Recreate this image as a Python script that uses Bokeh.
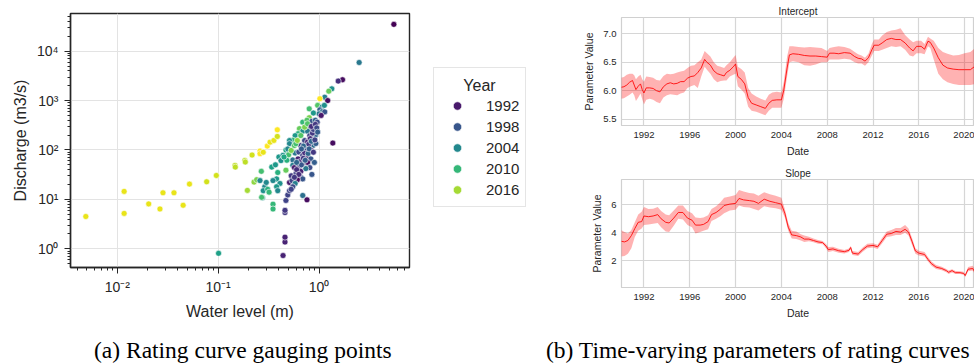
import numpy as np
from bokeh.plotting import figure
from bokeh.models import (ColumnDataSource, Range1d, FixedTicker,
                          CustomJSTickFormatter, NumeralTickFormatter, Legend,
                          LegendItem, Div, Title, Label, Spacer)
from bokeh.layouts import row, column
from bokeh.palettes import Viridis256
from bokeh.transform import linear_cmap
from bokeh.embed import file_html
from bokeh.resources import INLINE

# ---------------- (a) gauging points ----------------
level = [
    5.52, 2.50, 1.71, 1.55, 1.37, 0.76, 0.69, 0.44, 0.46, 0.46, 0.46, 0.46, 0.47, 0.49, 0.51, 0.101,
    0.00488, 0.0117, 0.0117, 0.0205, 0.0265, 0.0284, 0.0365, 0.045, 0.052, 0.077, 0.096, 0.147,
    0.148, 0.184, 0.186, 0.217, 0.26, 0.26, 0.28, 0.307, 0.327, 0.357, 0.386, 0.386, 0.195, 0.227,
    0.241, 0.26, 0.268, 0.35, 0.35, 0.275,
    1.34, 1.25, 1.14, 1.02, 1.22, 0.97, 1.07, 1.13, 1.02, 1.08, 1.14, 1.00, 1.05, 0.80, 0.88, 0.80,
    0.69, 0.76, 0.85, 0.92, 0.96, 0.76, 0.87, 0.81, 0.64, 0.69, 0.77, 0.62, 0.58, 0.81, 0.90, 0.93,
    0.55, 0.51, 0.72, 0.77, 0.51, 0.66, 0.87, 0.93, 0.47, 0.49, 0.74, 0.83, 0.58, 0.63, 0.40, 0.44,
    0.69, 0.77, 0.55, 0.62, 0.83, 0.42, 0.69, 0.77, 0.90, 0.55, 0.64, 0.34, 0.57, 0.81, 0.39, 0.47,
    0.66, 0.74, 0.59, 0.53, 0.85, 0.66, 0.69, 0.38, 0.35, 0.51, 0.54, 0.61, 0.58, 0.41, 0.38, 0.29,
    0.55, 0.53, 0.28, 0.31, 0.32, 0.39, 0.27, 0.48, 0.50, 0.53, 0.57, 0.59, 0.61, 0.66, 0.72, 0.77,
    0.60, 0.65, 0.70, 0.72, 0.75, 0.79, 0.82, 0.86, 0.88, 0.84, 0.92, 0.95, 0.67, 0.73, 0.78, 0.80,
    0.84, 0.70, 0.63, 0.57, 0.88, 0.91, 0.97, 0.60, 0.67, 0.45, 0.37, 0.30,
]
discharge = [
    34900, 5900, 2640, 2480, 138, 9.8, 12.0, 0.73, 1.37, 1.72, 5.4, 6.0, 9.5, 12.3, 15.0, 0.81,
    4.5, 14.5, 5.2, 8.1, 6.4, 13.6, 13.6, 7.6, 20.4, 22.7, 30.5, 48.6,
    45.0, 61, 57, 79, 95, 84, 90, 120, 144, 156, 188, 256, 15.2, 22.4,
    25.0, 24.0, 37, 8.0, 6.4, 10.8,
    1730, 1550, 1170, 1090, 1000, 800, 740, 800, 650, 600, 590, 540, 500, 680, 560, 450,
    366, 400, 380, 400, 366, 330, 290, 270, 270, 240, 240, 214, 195, 195, 186, 204,
    158, 155, 155, 145, 134, 123, 123, 135, 100, 105, 100, 100, 87, 91, 72, 78,
    78, 72, 63, 66, 66, 61, 54, 56, 56, 49, 47, 45, 44, 44, 35, 39,
    37, 42, 33, 30, 32, 28, 26, 26, 24, 22, 24, 25, 21, 21, 18, 18,
    18, 16, 15, 16, 14, 15, 11, 62, 80, 98, 123, 134, 156, 196, 290, 340,
    40, 58, 68, 88, 110, 130, 170, 220, 260, 300, 330, 280, 50, 62, 85, 105,
    150, 120, 32, 28, 90, 160, 230, 56, 105, 72, 50, 22,
]
year = [
    1990, 2002, 1991, 1994, 1991, 1991, 2001, 1993, 1993, 1993, 1995, 1995, 1996, 1996, 1996, 2007,
    2019, 2019, 2019, 2019, 2019, 2019, 2019, 2019, 2019, 2018, 2018, 2017,
    2017, 2017, 2017, 2018, 2020, 2020, 2019, 2020, 2019, 2019, 2018, 2020, 2016, 2015,
    2014, 2004, 2011, 2010, 2010, 2005,
    2005, 2013, 2003, 2020, 1991, 2012, 2004, 2005, 1999, 2001, 1998, 2002, 1992, 2011, 2006, 2014,
    2010, 2012, 1998, 2000, 1997, 2003, 1997, 1999, 2013, 2005, 2002, 2009, 2006, 1996, 1998, 2000,
    2010, 2005, 1997, 1993, 2004, 1995, 2001, 1999, 2008, 2004, 2003, 1992, 2002, 1997, 2006, 2005,
    1996, 1992, 2001, 1993, 1998, 2005, 1997, 1991, 1999, 2003, 1995, 2007, 1992, 1997, 2009, 2013,
    1993, 2002, 1996, 1995, 1998, 1997, 1998, 2006, 2004, 1992, 1996, 1991, 2003, 2005, 2006, 2004,
    1997, 1996, 2005, 2009, 2010, 2004, 2011, 2009, 2011, 2014, 2012, 2011, 2015, 2012, 2014, 2012,
    1994, 1994, 1995, 1994, 1996, 1995, 1994, 1995, 1996, 1994, 1995, 1997, 1998, 1999, 2000, 1999,
    2000, 2000, 1994, 1995, 1995, 1996, 1999, 2000, 1999, 2008, 2006, 2004,
]
legend_years = [1992, 1998, 2004, 2010, 2016]
year_low, year_high = 1990, 2020

# ---------------- (b) time-varying parameters ----------------
t_int = [1990.00, 1990.25, 1990.50, 1990.75, 1991.00, 1991.15, 1991.30, 1991.50, 1991.70, 1991.85,
         1992.00, 1992.20, 1992.50, 1992.80, 1993.10, 1993.40, 1993.70, 1994.00, 1994.30, 1994.60,
         1994.90, 1995.20, 1995.50, 1995.80, 1996.10, 1996.40, 1996.70, 1997.00, 1997.30, 1997.50,
         1997.80, 1998.10, 1998.40, 1998.70, 1999.00, 1999.20, 1999.50, 1999.80, 2000.00, 2000.20,
         2000.50, 2000.80, 2001.10, 2001.40, 2001.80, 2002.20, 2002.60, 2002.90, 2003.20, 2003.60,
         2004.00, 2004.20, 2004.50, 2004.70, 2005.00, 2005.50, 2006.00, 2006.50, 2007.00, 2007.50,
         2008.00, 2008.20, 2008.60, 2009.00, 2009.50, 2010.00, 2010.40, 2010.70, 2011.00, 2011.30,
         2011.60, 2011.90, 2012.10, 2012.50, 2012.80, 2013.20, 2013.60, 2014.00, 2014.40, 2014.80,
         2015.20, 2015.50, 2015.80, 2016.20, 2016.50, 2016.80, 2017.00, 2017.30, 2017.70, 2018.10,
         2018.50, 2019.00, 2019.50, 2020.00, 2020.50, 2020.90]
int_mid = [6.06, 6.07, 6.10, 6.15, 6.18, 6.10, 6.02, 6.08, 6.12, 6.02,
           5.96, 6.05, 6.05, 6.04, 6.00, 5.98, 6.07, 6.12, 6.14, 6.12,
           6.13, 6.16, 6.16, 6.22, 6.25, 6.26, 6.32, 6.40, 6.55, 6.50,
           6.45, 6.35, 6.30, 6.28, 6.26, 6.32, 6.36, 6.42, 6.47, 6.25,
           6.20, 6.12, 5.88, 5.78, 5.75, 5.72, 5.69, 5.78, 5.83, 5.84,
           5.84, 6.00, 6.40, 6.63, 6.65, 6.64, 6.62, 6.61, 6.61, 6.60,
           6.59, 6.66, 6.66, 6.65, 6.67, 6.66, 6.60, 6.57, 6.56, 6.52,
           6.58, 6.72, 6.80, 6.80, 6.84, 6.90, 6.92, 6.90, 6.90, 6.84,
           6.75, 6.70, 6.78, 6.78, 6.73, 6.87, 6.85, 6.75, 6.58, 6.45,
           6.40, 6.38, 6.37, 6.37, 6.37, 6.43]
int_lo = [5.86, 5.87, 5.90, 5.93, 5.97, 5.92, 5.82, 5.88, 5.95, 5.85,
          5.76, 5.84, 5.86, 5.84, 5.80, 5.78, 5.88, 5.92, 5.94, 5.93,
          5.92, 5.95, 5.97, 6.05, 6.08, 6.10, 6.05, 6.25, 6.42, 6.37,
          6.30, 6.20, 6.15, 6.17, 6.18, 6.18, 6.25, 6.28, 6.30, 6.08,
          6.02, 5.95, 5.72, 5.65, 5.63, 5.60, 5.57, 5.65, 5.70, 5.70,
          5.70, 5.85, 6.25, 6.50, 6.52, 6.50, 6.45, 6.44, 6.46, 6.50,
          6.50, 6.55, 6.55, 6.55, 6.56, 6.55, 6.50, 6.48, 6.48, 6.44,
          6.50, 6.62, 6.70, 6.70, 6.72, 6.75, 6.78, 6.77, 6.78, 6.72,
          6.62, 6.60, 6.66, 6.66, 6.64, 6.78, 6.75, 6.55, 6.30, 6.20,
          6.15, 6.12, 6.10, 6.10, 6.10, 6.12]
int_hi = [6.23, 6.24, 6.28, 6.30, 6.30, 6.27, 6.20, 6.25, 6.28, 6.20,
          6.16, 6.25, 6.24, 6.23, 6.19, 6.18, 6.26, 6.30, 6.29, 6.30,
          6.32, 6.34, 6.35, 6.40, 6.44, 6.45, 6.50, 6.55, 6.70, 6.66,
          6.60, 6.50, 6.44, 6.42, 6.40, 6.45, 6.50, 6.58, 6.63, 6.42,
          6.38, 6.32, 6.05, 5.95, 5.90, 5.86, 5.83, 5.93, 5.97, 5.98,
          5.97, 6.15, 6.60, 6.78, 6.78, 6.77, 6.76, 6.77, 6.76, 6.75,
          6.70, 6.75, 6.77, 6.78, 6.77, 6.74, 6.68, 6.64, 6.62, 6.58,
          6.65, 6.82, 6.90, 6.90, 6.97, 7.03, 7.06, 7.07, 7.10, 6.98,
          6.90, 6.85, 6.88, 6.88, 6.82, 6.95, 6.92, 6.88, 6.75, 6.68,
          6.65, 6.62, 6.63, 6.66, 6.68, 6.75]

t_slope = [1990.00, 1990.30, 1990.60, 1990.90, 1991.20, 1991.50, 1991.80, 1992.00, 1992.40, 1992.80,
           1993.20, 1993.50, 1993.90, 1994.20, 1994.60, 1995.00, 1995.40, 1995.80, 1996.20, 1996.50,
           1996.90, 1997.20, 1997.60, 1997.90, 1998.30, 1998.70, 1999.00, 1999.50, 2000.00, 2000.30,
           2000.70, 2001.20, 2001.60, 2002.00, 2002.50, 2003.00, 2003.50, 2004.00, 2004.30, 2004.60,
           2004.90, 2005.30, 2005.70, 2006.00, 2006.40, 2006.80, 2007.20, 2007.60, 2007.90, 2008.10,
           2008.50, 2009.00, 2009.50, 2009.90, 2010.05, 2010.20, 2010.70, 2011.10, 2011.50, 2012.00,
           2012.40, 2012.80, 2013.20, 2013.60, 2014.00, 2014.40, 2014.80, 2015.10, 2015.40, 2015.70,
           2016.00, 2016.50, 2016.80, 2017.10, 2017.50, 2018.00, 2018.40, 2018.60, 2018.90, 2019.20,
           2019.60, 2019.90, 2020.05, 2020.30, 2020.70, 2020.90, 2021.00]
slope_mid = [3.40, 3.35, 3.45, 3.80, 4.30, 4.75, 4.80, 5.20, 5.15, 5.20,
             5.30, 5.00, 4.75, 4.70, 5.05, 5.45, 5.45, 5.05, 4.90, 4.55,
             4.55, 4.60, 4.80, 5.30, 5.45, 5.70, 5.95, 6.05, 6.10, 6.45,
             6.35, 6.30, 6.25, 6.10, 6.40, 6.25, 6.15, 6.05, 5.40, 4.40,
             3.85, 3.80, 3.70, 3.55, 3.55, 3.45, 3.35, 3.30, 3.05, 2.80,
             2.85, 2.72, 2.65, 2.75, 2.95, 2.55, 2.48, 2.80, 3.05, 3.10,
             3.00, 3.45, 3.90, 3.95, 4.10, 4.05, 4.25, 4.05, 3.40, 2.70,
             2.55, 2.45, 2.10, 1.80, 1.55, 1.45, 1.30, 1.18, 1.30, 1.15,
             1.15, 1.10, 0.95, 1.40, 1.45, 1.20, 1.00]
slope_lo = [2.30, 2.35, 2.50, 2.90, 3.70, 4.15, 4.30, 4.55, 4.60, 4.65,
            4.70, 4.40, 4.10, 4.05, 4.50, 5.00, 4.95, 4.55, 4.40, 3.95,
            4.05, 4.15, 4.25, 4.85, 5.00, 5.20, 5.40, 5.60, 5.65, 5.95,
            5.85, 5.80, 5.70, 5.60, 5.90, 5.80, 5.75, 5.65, 5.10, 4.15,
            3.60, 3.55, 3.45, 3.35, 3.40, 3.33, 3.22, 3.18, 2.90, 2.62,
            2.70, 2.58, 2.52, 2.62, 2.80, 2.42, 2.35, 2.65, 2.90, 2.95,
            2.85, 3.25, 3.70, 3.75, 3.85, 3.85, 4.00, 3.80, 3.15, 2.50,
            2.38, 2.30, 1.95, 1.65, 1.42, 1.32, 1.18, 1.05, 1.17, 1.05,
            1.05, 1.00, 0.85, 1.25, 1.30, 1.05, 0.90]
slope_hi = [4.20, 4.05, 3.95, 4.20, 4.75, 5.30, 5.50, 5.85, 5.70, 5.72,
            5.85, 5.55, 5.30, 5.25, 5.60, 5.95, 5.95, 5.55, 5.40, 5.10,
            5.05, 5.10, 5.25, 5.70, 5.90, 6.20, 6.50, 6.60, 6.70, 7.05,
            6.95, 6.85, 6.80, 6.65, 6.90, 6.75, 6.65, 6.50, 5.70, 4.70,
            4.15, 4.10, 3.90, 3.80, 3.72, 3.60, 3.48, 3.42, 3.20, 2.98,
            3.00, 2.86, 2.78, 2.88, 3.05, 2.70, 2.62, 2.95, 3.22, 3.25,
            3.15, 3.65, 4.10, 4.20, 4.35, 4.35, 4.55, 4.30, 3.65, 2.90,
            2.72, 2.62, 2.28, 1.95, 1.70, 1.58, 1.42, 1.30, 1.40, 1.27,
            1.26, 1.22, 1.05, 1.55, 1.65, 1.40, 1.20]
date_ticks = [1992, 1996, 2000, 2004, 2008, 2012, 2016, 2020]
int_ticks = [5.5, 6.0, 6.5, 7.0]
slope_ticks = [2, 4, 6]

FONT = "Liberation Sans"
TXT = "#262626"

# ---------------- left figure ----------------
p1 = figure(width=403, height=314, x_axis_type="log", y_axis_type="log",
            x_range=Range1d(0.00344, 7.89), y_range=Range1d(0.418, 57900),
            output_backend="svg", toolbar_location=None,
            min_border_left=60, min_border_right=2, min_border_top=5, min_border_bottom=55)
p1.outline_line_color = "#262626"
p1.outline_line_width = 1.4
p1.background_fill_color = "white"
p1.border_fill_color = "white"

sup_fmt = CustomJSTickFormatter(code="""
const e = Math.round(Math.log10(tick));
const m = {"-":"\u207b","0":"\u2070","1":"\u00b9","2":"\u00b2","3":"\u00b3","4":"\u2074","5":"\u2075","6":"\u2076","7":"\u2077","8":"\u2078","9":"\u2079"};
return "10" + String(e).split("").map(c => m[c]).join("");
""")

for ax in (p1.xaxis[0], p1.yaxis[0]):
    ax.formatter = sup_fmt
    ax.axis_line_color = "#262626"
    ax.axis_line_width = 1.4
    ax.major_tick_line_color = "#262626"
    ax.minor_tick_line_color = "#262626"
    ax.major_tick_out = 6
    ax.major_tick_in = 0
    ax.minor_tick_out = 3
    ax.minor_tick_in = 0
    ax.major_label_text_font = FONT
    ax.major_label_text_font_size = "14px"
    ax.major_label_text_color = TXT
    ax.axis_label_text_font = FONT
    ax.axis_label_text_font_size = "16px"
    ax.axis_label_text_font_style = "normal"
    ax.axis_label_text_color = TXT
p1.xaxis.axis_label = "Water level (m)"
p1.yaxis.axis_label = "Discharge (m3/s)"
p1.xaxis.major_label_standoff = 5
p1.yaxis.major_label_standoff = 6
p1.xaxis.axis_label_standoff = 5
p1.yaxis.axis_label_standoff = 5
p1.grid.grid_line_color = "#e3e3e3"
p1.grid.grid_line_width = 1

src = ColumnDataSource(dict(level=level, discharge=discharge, year=year))
p1.scatter(x="level", y="discharge", source=src, size=6,
           fill_color=linear_cmap("year", Viridis256, year_low, year_high),
           line_color="white", line_width=0.6)

# ---------------- legend panel: its frame is aligned with p1's frame (254 px tall) ----------------
LW, FH = 169, 254
lf = figure(width=LW, height=314, x_range=Range1d(0, LW), y_range=Range1d(0, FH),
            x_axis_location=None, y_axis_location=None, output_backend="svg",
            toolbar_location=None, min_border_left=0, min_border_right=0,
            min_border_top=5, min_border_bottom=55)
lf.outline_line_color = None
lf.grid.visible = False
items = []
for yr in legend_years:
    idx = int(round((yr - year_low) / (year_high - year_low) * 255))
    r = lf.scatter(x=[np.nan], y=[np.nan], size=8, fill_color=Viridis256[idx],
                   line_color="white", line_width=0.6)
    items.append(LegendItem(label=str(yr), renderers=[r]))
leg = Legend(items=items, title=" ", location=(22, 60))
leg.margin = 0
leg.padding = 6
leg.spacing = 0
leg.glyph_height = 21
leg.label_height = 21
leg.glyph_width = 34
leg.label_standoff = 12
leg.title_standoff = 3
leg.title_text_font = FONT
leg.title_text_font_size = "16px"
leg.label_text_font = FONT
leg.label_text_font_size = "15px"
leg.label_text_color = TXT
leg.border_line_color = "#cccccc"
leg.border_line_width = 1
leg.background_fill_alpha = 0
lf.add_layout(leg)
lf.add_layout(Label(x=68, y=FH - 72, text="Year", text_align="center",
                    text_baseline="middle", text_font=FONT, text_font_size="16px",
                    text_color=TXT, level="overlay"))


# ---------------- right figures ----------------
def panel(t, mid, lo, hi, yr, ticks, fmt, title, height, top):
    x0, x1 = 1990.04, 2020.86
    p = figure(width=394, height=height, x_range=Range1d(x0, x1), y_range=Range1d(*yr),
               output_backend="svg", toolbar_location=None,
               min_border_left=38, min_border_right=0, min_border_top=top, min_border_bottom=35)
    p.title = Title(text=title, align="center", standoff=1, offset=0,
                    text_font=FONT, text_font_size="10px", text_font_style="normal",
                    text_color=TXT)
    p.outline_line_color = "#d0d0d0"
    p.outline_line_width = 1.2
    p.grid.grid_line_color = "#d6d6d6"
    p.grid.grid_line_width = 1.2
    p.xaxis.ticker = FixedTicker(ticks=date_ticks)
    p.yaxis.ticker = FixedTicker(ticks=ticks)
    p.yaxis.formatter = NumeralTickFormatter(format=fmt)
    for ax in (p.xaxis[0], p.yaxis[0]):
        ax.axis_line_color = None
        ax.major_tick_line_color = None
        ax.minor_tick_line_color = None
        ax.major_tick_out = 0
        ax.major_tick_in = 0
        ax.minor_tick_out = 0
        ax.major_label_text_font = FONT
        ax.major_label_text_font_size = "9.5px"
        ax.major_label_text_color = TXT
        ax.axis_label_text_font = FONT
        ax.axis_label_text_font_size = "10.5px"
        ax.axis_label_text_font_style = "normal"
        ax.axis_label_text_color = TXT
    p.xaxis.axis_label = "Date"
    p.yaxis.axis_label = "Parameter Value"
    p.xaxis.major_label_standoff = 6
    p.yaxis.major_label_standoff = 5
    p.xaxis.axis_label_standoff = 4
    p.yaxis.axis_label_standoff = 5
    p.varea(x=t, y1=lo, y2=hi, fill_color="red", fill_alpha=0.3)
    p.line(x=t, y=mid, line_color="red", line_width=1, line_alpha=0.85)
    return p


p2 = panel(t_int, int_mid, int_lo, int_hi, (5.389, 7.287), int_ticks, "0.0", "Intercept", 157, 14)
p3 = panel(t_slope, slope_mid, slope_lo, slope_hi, (0.093, 7.807), slope_ticks, "0", "Slope", 162, 19)

cap = Div(width=974, height=34, text=(
    "<div style=\"position:relative;width:974px;height:34px;font-family:'Liberation Serif',serif;"
    "font-size:23.5px;line-height:24px;color:#000;white-space:nowrap;\">"
    "<span style=\"position:absolute;left:89px;top:11px;\">(a) Rating curve gauging points</span>"
    "<span style=\"position:absolute;left:541px;top:11px;\">(b) Time-varying parameters of rating curves</span>"
    "</div>"))

left_block = column(Spacer(width=580, height=8),
                    row(Spacer(width=8, height=314), p1, lf, spacing=0), spacing=0)
right_block = column(Spacer(width=394, height=3), p2, p3, spacing=0)
layout = column(row(left_block, right_block, spacing=0), cap, spacing=0)
open("out.html", "w").write(file_html(layout, INLINE))
